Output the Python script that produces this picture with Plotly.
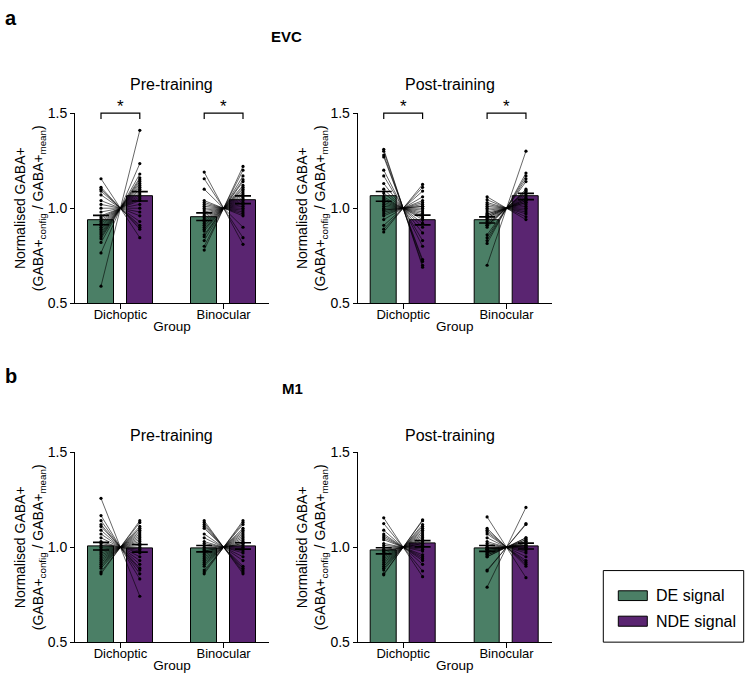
import numpy as np
import plotly.graph_objects as go

# ---------------- data (DE-normalised values per participant) ----------------
groups = ["Dichoptic", "Binocular"]
timepoints = ["Pre-training", "Post-training"]
regions = ["EVC", "M1"]
y_tick_vals = [0.5, 1.0, 1.5]
y_tick_text = ["0.5", "1.0", "1.5"]
series_names = ["DE signal", "NDE signal"]

evc_pre_dichoptic_de = [1.155, 1.11, 1.10, 1.09, 1.07, 1.04, 1.02, 1.0, 0.98, 0.96, 0.95, 0.94, 0.93,
                        0.92, 0.91, 0.90, 0.89, 0.88, 0.87, 0.86, 0.85, 0.84, 0.82, 0.765, 0.59]
evc_pre_binocular_de = [1.19, 1.155, 1.10, 1.04, 1.03, 1.02, 1.01, 1.0, 0.99, 0.98, 0.97, 0.96, 0.95,
                        0.94, 0.93, 0.92, 0.91, 0.90, 0.89, 0.88, 0.86, 0.85, 0.83, 0.80, 0.78]
evc_post_dichoptic_de = [1.31, 1.30, 1.28, 1.27, 1.20, 1.17, 1.13, 1.10, 1.08, 1.06, 1.05, 1.04, 1.03,
                         1.02, 1.01, 1.0, 0.99, 0.99, 0.98, 0.97, 0.96, 0.94, 0.91, 0.89, 0.875]
evc_post_binocular_de = [1.06, 1.045, 1.03, 1.02, 1.01, 1.0, 0.99, 0.98, 0.97, 0.97, 0.96, 0.96, 0.95,
                         0.95, 0.94, 0.93, 0.92, 0.91, 0.91, 0.90, 0.86, 0.845, 0.83, 0.815, 0.70]
m1_pre_dichoptic_de = [1.258, 1.167, 1.14, 1.12, 1.11, 1.09, 1.07, 1.05, 1.03, 1.02, 1.01, 1.0, 0.99,
                       0.98, 0.97, 0.96, 0.95, 0.94, 0.93, 0.92, 0.91, 0.90, 0.89, 0.87, 0.86]
m1_pre_binocular_de = [1.14, 1.13, 1.12, 1.11, 1.10, 1.07, 1.05, 1.03, 1.02, 1.01, 1.0, 0.99, 0.98,
                       0.98, 0.97, 0.96, 0.95, 0.94, 0.93, 0.92, 0.91, 0.90, 0.88, 0.87, 0.86]
m1_post_dichoptic_de = [1.155, 1.125, 1.09, 1.07, 1.06, 1.05, 1.04, 1.02, 1.01, 1.0, 0.99, 0.98, 0.98,
                        0.97, 0.96, 0.95, 0.94, 0.93, 0.92, 0.91, 0.90, 0.89, 0.88, 0.86, 0.855]
m1_post_binocular_de = [1.16, 1.10, 1.09, 1.08, 1.07, 1.05, 1.03, 1.02, 1.01, 1.0, 1.0, 0.99, 0.99,
                        0.99, 0.98, 0.98, 0.97, 0.97, 0.96, 0.96, 0.95, 0.95, 0.88, 0.875, 0.79]

# significance of DE vs NDE per panel/group
evc_significant = [[True, True], [True, True]]
m1_significant = [[False, False], [False, False]]

# ---------------- style ----------------
FONT = "Arial, Liberation Sans, sans-serif"
DE_COLOR = "#4b7f66"
NDE_COLOR = "#5a2571"
W, H = 750, 686
BAR_OFF = 0.188
BAR_W = 0.247

panel_data = {
    ("EVC", "Pre-training"): [evc_pre_dichoptic_de, evc_pre_binocular_de],
    ("EVC", "Post-training"): [evc_post_dichoptic_de, evc_post_binocular_de],
    ("M1", "Pre-training"): [m1_pre_dichoptic_de, m1_pre_binocular_de],
    ("M1", "Post-training"): [m1_post_dichoptic_de, m1_post_binocular_de],
}
panel_sig = {
    ("EVC", "Pre-training"): evc_significant[0], ("EVC", "Post-training"): evc_significant[1],
    ("M1", "Pre-training"): m1_significant[0], ("M1", "Post-training"): m1_significant[1],
}

x_domains = {"Pre-training": [75 / W, 269 / W], "Post-training": [357.7 / W, 552 / W]}
y_domains = {"EVC": [1 - 302.3 / H, 1 - 107.7 / H], "M1": [1 - 649.3 / H, 1 - 455 / H]}
title_y = {"EVC": 78, "M1": 438}
title_x = {"Pre-training": 171, "Post-training": 450}

fig = go.Figure()
layout = dict(
    width=W, height=H, margin=dict(l=0, r=0, t=0, b=0),
    paper_bgcolor="white", plot_bgcolor="white",
    font=dict(family=FONT, color="black", size=14),
    showlegend=False, bargap=0,
)
shapes = []
annotations = []

k = 0
for region in regions:
    for tp in timepoints:
        k += 1
        xa = "x" if k == 1 else f"x{k}"
        ya = "y" if k == 1 else f"y{k}"
        data = panel_data[(region, tp)]
        xpos = np.arange(len(groups), dtype=float)
        de_means, nde_means, de_sem, nde_sem = [], [], [], []
        for vals in data:
            de = np.array(vals)
            nde = 2.0 - de
            de_means.append(de.mean()); nde_means.append(nde.mean())
            de_sem.append(de.std(ddof=1) / np.sqrt(len(de)))
            nde_sem.append(nde.std(ddof=1) / np.sqrt(len(nde)))
        # bars
        for means, off, col, name in [(de_means, -BAR_OFF, DE_COLOR, series_names[0]),
                                      (nde_means, BAR_OFF, NDE_COLOR, series_names[1])]:
            fig.add_trace(go.Bar(x=xpos + off, y=means, width=BAR_W, name=name,
                                 marker=dict(color=col, line=dict(color="black", width=1)),
                                 xaxis=xa, yaxis=ya, showlegend=False, hoverinfo="skip"))
        # participant lines
        lx, ly = [], []
        for gi, vals in enumerate(data):
            for v in vals:
                lx += [xpos[gi] - BAR_OFF, xpos[gi] + BAR_OFF, None]
                ly += [v, 2.0 - v, None]
        fig.add_trace(go.Scatter(x=lx, y=ly, mode="lines+markers",
                                 line=dict(color="black", width=0.6),
                                 marker=dict(color="black", size=3.2),
                                 xaxis=xa, yaxis=ya, showlegend=False, hoverinfo="skip"))
        # error bars (mean ± SEM)
        fig.add_trace(go.Scatter(x=np.concatenate([xpos - BAR_OFF, xpos + BAR_OFF]),
                                 y=de_means + nde_means, mode="markers",
                                 marker=dict(size=1, color="rgba(0,0,0,0)"),
                                 error_y=dict(type="data", array=de_sem + nde_sem, color="black",
                                              thickness=1.6, width=8),
                                 xaxis=xa, yaxis=ya, showlegend=False, hoverinfo="skip"))
        # axes
        xkey = "xaxis" if k == 1 else f"xaxis{k}"
        ykey = "yaxis" if k == 1 else f"yaxis{k}"
        layout[xkey] = dict(
            domain=x_domains[tp], anchor=ya, range=[-0.44, 1.44],
            tickvals=list(xpos), ticktext=groups, ticks="outside", ticklen=5,
            ticklabelstandoff=-6,
            tickcolor="black", showline=True, linecolor="black", linewidth=1,
            showgrid=False, zeroline=False, fixedrange=True,
            tickfont=dict(size=13, color="black"),
            title=dict(text="Group", font=dict(size=13.5, color="black"), standoff=0),
        )
        layout[ykey] = dict(
            domain=y_domains[region], anchor=xa, range=[0.5, 1.5],
            tickvals=y_tick_vals, ticktext=y_tick_text, ticks="outside", ticklen=4,
            tickcolor="black", showline=True, linecolor="black", linewidth=1,
            showgrid=False, zeroline=False, fixedrange=True,
            tickfont=dict(size=14, color="black"),
            title=dict(text="Normalised GABA+<br>(GABA+<sub>config</sub> / GABA+<sub>mean</sub>)",
                       font=dict(size=14, color="black"), standoff=0),
        )
        # panel title
        annotations.append(dict(text=tp, x=title_x[tp] / W, y=1 - title_y[region] / H,
                                xref="paper", yref="paper", xanchor="center", yanchor="middle",
                                showarrow=False, font=dict(size=16, color="black")))
        # significance brackets
        for gi, sig in enumerate(panel_sig[(region, tp)]):
            if not sig:
                continue
            x0, x1 = xpos[gi] - BAR_OFF, xpos[gi] + BAR_OFF
            shapes.append(dict(type="path",
                               path=f"M {x0} 0.97 L {x0} 1.0 L {x1} 1.0 L {x1} 0.97",
                               xref=xa, yref=f"{ya} domain",
                               line=dict(color="black", width=1.2)))
            annotations.append(dict(text="*", x=xpos[gi], y=1.0, xref=xa, yref=f"{ya} domain",
                                    xanchor="center", yanchor="bottom", yshift=-5,
                                    showarrow=False, font=dict(size=17, color="black")))

# panel letters and region headers
annotations += [
    dict(text="<b>a</b>", x=3 / W, y=1 - 10 / H, xref="paper", yref="paper", xanchor="left",
         yanchor="middle", showarrow=False, font=dict(size=20, color="black")),
    dict(text="<b>b</b>", x=3 / W, y=1 - 377 / H, xref="paper", yref="paper", xanchor="left",
         yanchor="middle", showarrow=False, font=dict(size=20, color="black")),
    dict(text="<b>EVC</b>", x=286 / W, y=1 - 29 / H, xref="paper", yref="paper", xanchor="center",
         yanchor="middle", showarrow=False, font=dict(size=15, color="black")),
    dict(text="<b>M1</b>", x=292 / W, y=1 - 390 / H, xref="paper", yref="paper", xanchor="center",
         yanchor="middle", showarrow=False, font=dict(size=15, color="black")),
]

# legend box (drawn manually)
shapes.append(dict(type="rect", xref="paper", yref="paper", x0=603.3 / W, x1=743.7 / W,
                   y0=1 - 649.3 / H, y1=1 - 576 / H, line=dict(color="black", width=1)))
for (yt, yb, col, name, ytext) in [(596.7, 606.7, DE_COLOR, series_names[0], 601.7),
                                   (622.7, 633.0, NDE_COLOR, series_names[1], 628.0)]:
    shapes.append(dict(type="rect", xref="paper", yref="paper", x0=618.3 / W, x1=647.3 / W,
                       y0=1 - yb / H, y1=1 - yt / H, fillcolor=col,
                       line=dict(color="black", width=1)))
    annotations.append(dict(text=name, x=654 / W, y=1 - ytext / H, xref="paper", yref="paper",
                            xanchor="left", yanchor="middle", showarrow=False,
                            font=dict(size=16, color="black")))

layout["shapes"] = shapes
layout["annotations"] = annotations
fig.update_layout(**layout)
fig.write_html("out.html")
